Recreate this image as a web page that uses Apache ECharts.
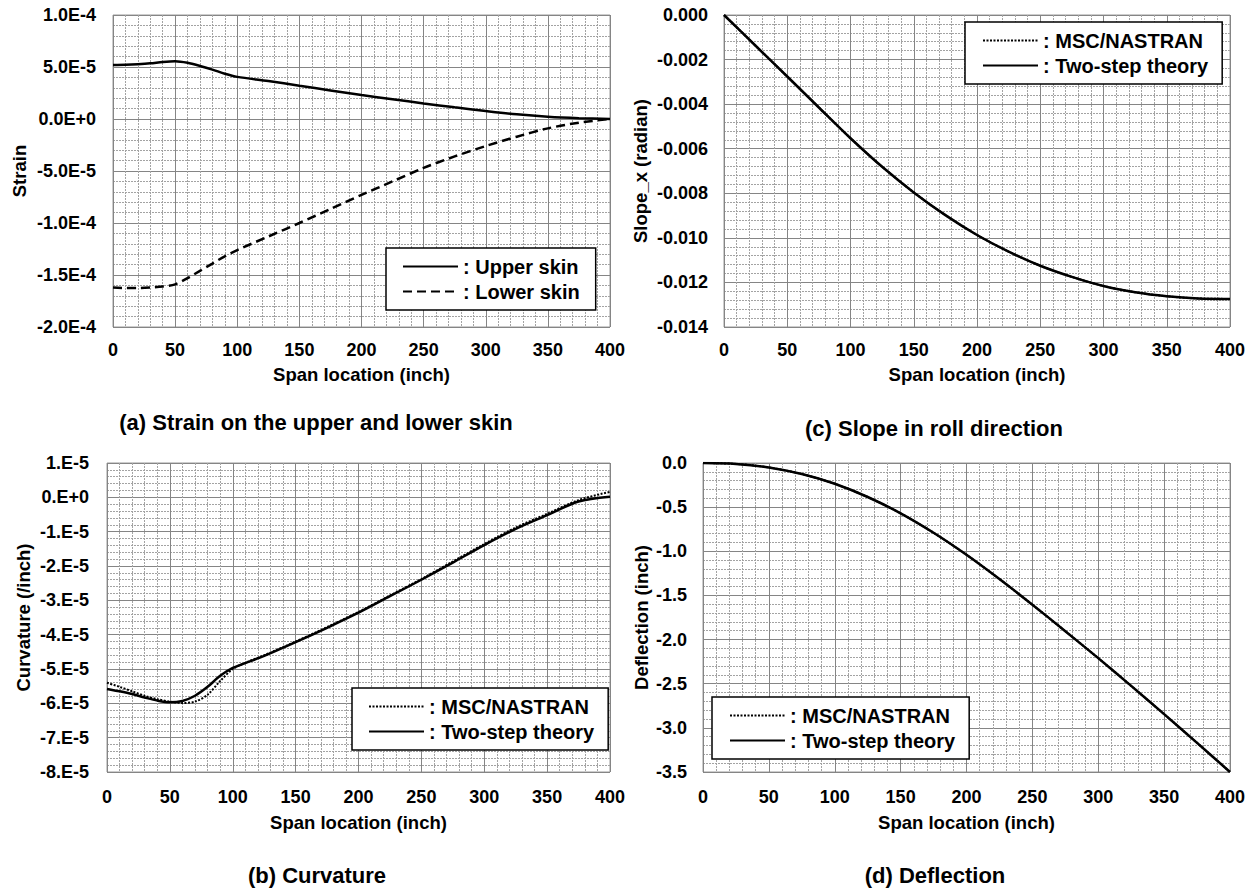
<!DOCTYPE html>
<html>
<head>
<meta charset="utf-8">
<script src="https://cdn.jsdelivr.net/npm/echarts@6/dist/echarts.min.js"></script>
<style>
html,body{margin:0;padding:0;background:#fff;}
#chart{width:1255px;height:890px;}
</style>
</head>
<body>
<div id="chart"></div>
<script>
// ---------- DATA ----------
// (a) Strain on the upper and lower skin
const spanA = [0, 10, 20, 30, 40, 50, 60, 70, 80, 90, 100, 125, 150, 175, 200, 225, 250, 275, 300, 325, 350, 375, 400];
const upperSkin = [5.2e-5, 5.22e-5, 5.27e-5, 5.35e-5, 5.48e-5, 5.55e-5, 5.4e-5, 5.1e-5, 4.75e-5, 4.35e-5, 4.05e-5, 3.65e-5, 3.2e-5, 2.75e-5, 2.3e-5, 1.9e-5, 1.5e-5, 1.12e-5, 0.77e-5, 0.45e-5, 0.22e-5, 0.08e-5, 0];
const lowerSkin = [-16.2e-5, -16.25e-5, -16.25e-5, -16.2e-5, -16.1e-5, -15.9e-5, -15.3e-5, -14.6e-5, -13.9e-5, -13.2e-5, -12.6e-5, -11.3e-5, -10.0e-5, -8.65e-5, -7.3e-5, -6.0e-5, -4.7e-5, -3.6e-5, -2.6e-5, -1.7e-5, -0.9e-5, -0.35e-5, 0];

// (b) Curvature
const spanB = [0, 10, 20, 30, 40, 50, 60, 70, 80, 90, 100, 110, 125, 150, 175, 200, 225, 250, 275, 300, 325, 350, 375, 400];
const curvMSC = [-5.40e-5, -5.52e-5, -5.65e-5, -5.78e-5, -5.88e-5, -5.95e-5, -5.99e-5, -5.95e-5, -5.75e-5, -5.35e-5, -5.0e-5, -4.82e-5, -4.6e-5, -4.2e-5, -3.78e-5, -3.34e-5, -2.86e-5, -2.38e-5, -1.87e-5, -1.36e-5, -0.88e-5, -0.48e-5, -0.08e-5, 0.16e-5];
const curvTwoStep = [-5.58e-5, -5.65e-5, -5.73e-5, -5.83e-5, -5.92e-5, -5.97e-5, -5.93e-5, -5.78e-5, -5.52e-5, -5.2e-5, -4.97e-5, -4.83e-5, -4.62e-5, -4.22e-5, -3.8e-5, -3.36e-5, -2.88e-5, -2.40e-5, -1.90e-5, -1.39e-5, -0.92e-5, -0.52e-5, -0.12e-5, 0.02e-5];

// (c) Slope in roll direction
const spanC = [0, 25, 50, 75, 100, 125, 150, 175, 200, 225, 250, 275, 300, 325, 350, 375, 400];
const slopeMSC = [0, -0.00138, -0.00276, -0.00415, -0.00553, -0.00681, -0.00796, -0.00898, -0.00987, -0.01062, -0.01125, -0.01175, -0.01216, -0.01244, -0.01262, -0.01272, -0.01274];
const slopeTwoStep = [0, -0.00138, -0.00276, -0.00415, -0.00553, -0.00681, -0.00796, -0.00898, -0.00987, -0.01062, -0.01125, -0.01175, -0.01216, -0.01244, -0.01262, -0.01272, -0.01274];

// (d) Deflection
const spanD = [0, 25, 50, 75, 100, 125, 150, 175, 200, 225, 250, 275, 300, 325, 350, 375, 400];
const deflMSC = [0, -0.01, -0.05, -0.125, -0.235, -0.385, -0.57, -0.79, -1.04, -1.315, -1.605, -1.905, -2.21, -2.525, -2.845, -3.17, -3.50];
const deflTwoStep = [0, -0.01, -0.05, -0.125, -0.235, -0.385, -0.57, -0.79, -1.04, -1.315, -1.605, -1.905, -2.21, -2.525, -2.845, -3.17, -3.50];

const xAxisTitle = 'Span location (inch)';
const captions = ['(a) Strain on the upper and lower skin', '(b) Curvature', '(c) Slope in roll direction', '(d) Deflection'];

// ---------- HELPERS ----------
const FONT = '"Liberation Sans", Arial, Helvetica, sans-serif';
const zip = (xs, ys) => xs.map((x, i) => [x, ys[i]]);

const fmtA = v => v.toExponential(1).toUpperCase();
const fmtB = v => Number(v.toPrecision(6)).toExponential(0).replace('e', '.E');
const fmtC = v => (Math.abs(v) < 1e-12 ? 0 : v).toFixed(3);
const fmtD = v => (Math.abs(v) < 1e-12 ? 0 : v).toFixed(1);

const grids = [
  {left: 113, top: 15, width: 497, height: 312},   // a
  {left: 107, top: 463, width: 503, height: 309},  // b
  {left: 724, top: 15, width: 506, height: 312},   // c
  {left: 703, top: 463, width: 527, height: 309}   // d
];

const majorLine = {show: true, lineStyle: {color: '#858585', width: 1}};
const minorLine = {show: true, lineStyle: {color: '#a3a3a3', width: 1, type: [2, 1]}};

function xAxisFor(gi, labelMargin, nameGap) {
  return {
    type: 'value', gridIndex: gi, min: 0, max: 400, interval: 50,
    name: xAxisTitle, nameLocation: 'middle', nameGap: nameGap,
    nameTextStyle: {fontFamily: FONT, fontWeight: 'bold', fontSize: 18.5, color: '#000'},
    axisLine: {show: false}, axisTick: {show: false},
    axisLabel: {margin: labelMargin, fontFamily: FONT, fontWeight: 'bold', fontSize: 18, color: '#000'},
    splitLine: majorLine,
    minorTick: {show: false, splitNumber: 5},
    minorSplitLine: minorLine
  };
}
function yAxisFor(gi, min, max, interval, fmt, name, nameGap, labelMargin) {
  return {
    type: 'value', gridIndex: gi, min: min, max: max, interval: interval,
    name: name, nameLocation: 'middle', nameGap: nameGap,
    nameTextStyle: {fontFamily: FONT, fontWeight: 'bold', fontSize: 18.5, color: '#000'},
    axisLine: {show: false}, axisTick: {show: false},
    axisLabel: {margin: labelMargin, formatter: fmt, fontFamily: FONT, fontWeight: 'bold', fontSize: 18, color: '#000'},
    splitLine: majorLine,
    minorTick: {show: false, splitNumber: 5},
    minorSplitLine: minorLine
  };
}

const solid = {color: '#000', width: 2.5, type: 'solid'};
const dashed = {color: '#000', width: 2.5, type: [9, 5]};
const dotted = {color: '#000', width: 2, type: [2, 1.5]};

function lineSeries(name, xi, data, style, z) {
  return {
    name: name, type: 'line', xAxisIndex: xi, yAxisIndex: xi, data: data,
    showSymbol: false, symbol: 'none', smooth: 0.3,
    lineStyle: style, itemStyle: {color: '#000'},
    z: z || 2, silent: true
  };
}

function legendAt(left, top, names, padding) {
  return {
    left: left, top: top, orient: 'vertical', data: names,
    itemWidth: 55, itemHeight: 14, itemGap: 2,
    padding: padding, borderColor: '#000', borderWidth: 1.5, backgroundColor: '#fff',
    formatter: n => ': ' + n, selectedMode: false,
    itemStyle: {opacity: 0},
    textStyle: {fontFamily: FONT, fontWeight: 'bold', fontSize: 20, color: '#000', lineHeight: 23}
  };
}

const caption = (text, x, y) => ({
  type: 'text', x: x, y: y,
  style: {text: text, fill: '#000', font: 'bold 22px ' + FONT, textAlign: 'center', textVerticalAlign: 'middle'}
});

const chart = echarts.init(document.getElementById('chart'), null, {renderer: 'svg', width: 1255, height: 890});
chart.setOption({
  backgroundColor: '#fff',
  animation: false,
  textStyle: {fontFamily: FONT},
  grid: grids.map(g => Object.assign({show: true, borderColor: '#9a9a9a', borderWidth: 1, backgroundColor: '#fff'}, g)),
  xAxis: [xAxisFor(0, 14, 38), xAxisFor(1, 16, 41), xAxisFor(2, 14, 38), xAxisFor(3, 16, 41)],
  yAxis: [
    yAxisFor(0, -2e-4, 1e-4, 5e-5, fmtA, 'Strain', 84, 17),
    yAxisFor(1, -8e-5, 1e-5, 1e-5, fmtB, 'Curvature (/inch)', 74, 18),
    yAxisFor(2, -0.014, 0, 0.002, fmtC, 'Slope_x (radian)', 74, 16),
    yAxisFor(3, -3.5, 0, 0.5, fmtD, 'Deflection (inch)', 52, 16)
  ],
  legend: [
    legendAt(386, 248, ['Upper skin', 'Lower skin'], [7, 16, 7, 16]),
    legendAt(352, 688, ['MSC/NASTRAN', 'Two-step theory'], [7, 14, 7, 16]),
    legendAt(965, 22, ['MSC/NASTRAN', 'Two-step theory'], [7, 14, 7, 17]),
    legendAt(712, 697, ['MSC/NASTRAN', 'Two-step theory'], [7, 14, 7, 17])
  ],
  series: [
    lineSeries('Upper skin', 0, zip(spanA, upperSkin), solid),
    lineSeries('Lower skin', 0, zip(spanA, lowerSkin), dashed),
    lineSeries('MSC/NASTRAN', 1, zip(spanB, curvMSC), dotted, 2),
    lineSeries('Two-step theory', 1, zip(spanB, curvTwoStep), solid, 3),
    lineSeries('MSC/NASTRAN', 2, zip(spanC, slopeMSC), dotted, 2),
    lineSeries('Two-step theory', 2, zip(spanC, slopeTwoStep), solid, 3),
    lineSeries('MSC/NASTRAN', 3, zip(spanD, deflMSC), dotted, 2),
    lineSeries('Two-step theory', 3, zip(spanD, deflTwoStep), solid, 3)
  ],
  graphic: [
    caption(captions[0], 316, 422),
    caption(captions[1], 317, 875),
    caption(captions[2], 934, 428),
    caption(captions[3], 935, 875)
  ]
});
</script>
</body>
</html>
